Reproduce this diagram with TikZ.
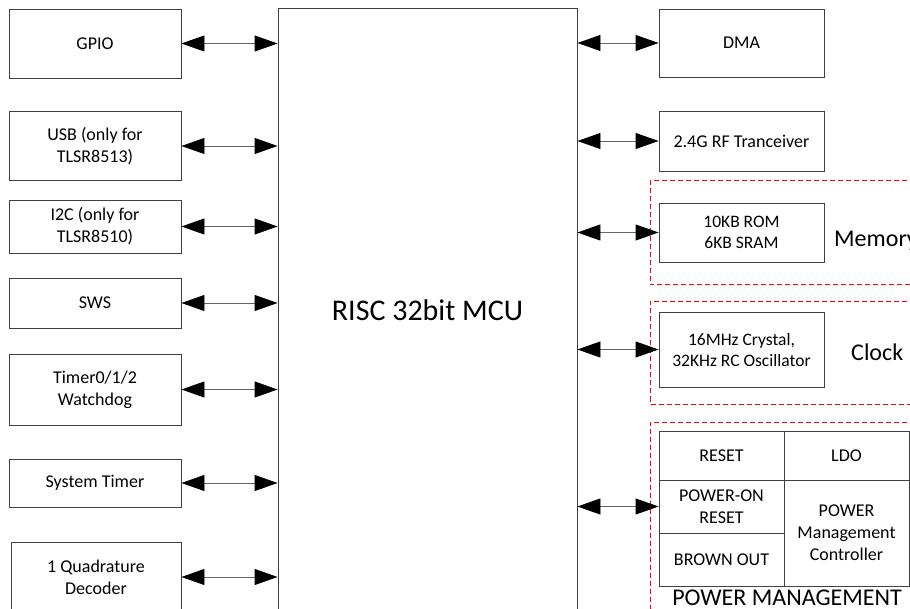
\documentclass[tikz,border=0pt]{standalone}
\usepackage{fontspec}
\setmainfont{Carlito}
\usetikzlibrary{arrows.meta}

\begin{document}
\begin{tikzpicture}[x=1pt, y=-1pt, >={Triangle[length=23pt,width=16pt,color=black]}]
    \tikzset{blk/.style={draw=black!75, line width=0.9pt, inner sep=0pt, align=center,
        font=\fontsize{18}{22}\selectfont},
        link/.style={draw=black!60, line width=0.9pt, <->},
        grp/.style={draw=red, line width=1pt, dash pattern=on 5pt off 3pt}}
    \useasboundingbox (0,0) rectangle (910,609);
    \clip (0,0) rectangle (910,609);
    % groups
    \draw[grp] (915,422) -- (650,422) -- (650,615);
    \draw[grp] (915,301.5) -- (650,301.5) -- (650,404) -- (915,404);
    \draw[grp] (915,181) -- (650,181) -- (650,285) -- (915,285);
    % central core
    \node[blk, minimum width=299pt, minimum height=604pt,
        font=\fontsize{30}{34}\selectfont] (mcu) at (427.5,310) {RISC 32bit MCU};
    % left peripherals
    \node[blk, minimum width=172pt, minimum height=69pt] (gpio) at (95,43.5) {GPIO};
    \node[blk, minimum width=172pt, minimum height=69pt] (usb) at (95,146) {USB (only for\\TLSR8513)};
    \node[blk, minimum width=172pt, minimum height=53pt] (iic) at (95,226.5) {I2C (only for\\TLSR8510)};
    \node[blk, minimum width=172pt, minimum height=50pt] (sws) at (95,303) {SWS};
    \node[blk, minimum width=172pt, minimum height=71pt] (timer) at (95,389.5) {Timer0/1/2\\Watchdog};
    \node[blk, minimum width=172pt, minimum height=48pt] (systimer) at (95,483) {System Timer};
    \node[blk, minimum width=170pt, minimum height=70pt] (qdec) at (96,577) {1 Quadrature\\Decoder};
    % right peripherals
    \node[blk, minimum width=165pt, minimum height=68pt] (dma) at (741.5,43) {DMA};
    \node[blk, minimum width=165pt, minimum height=60pt] (rf) at (741.5,141) {2.4G RF Tranceiver};
    \node[blk, minimum width=165pt, minimum height=59pt,
        font=\fontsize{17.5}{21}\selectfont] (mem) at (741.5,232.5) {10KB ROM\\6KB SRAM};
    \node[blk, minimum width=165pt, minimum height=75pt,
        font=\fontsize{17.5}{21}\selectfont] (clk) at (741.5,349.5) {16MHz Crystal,\\32KHz RC Oscillator};
    % power management grid
    \node[blk, minimum width=125pt, minimum height=49pt] (rst) at (721.5,455.5) {RESET};
    \node[blk, minimum width=125pt, minimum height=53pt] (por) at (721.5,506.5) {POWER-ON\\RESET};
    \node[blk, minimum width=125pt, minimum height=53pt] (bor) at (721.5,559.5) {BROWN OUT};
    \node[blk, minimum width=125pt, minimum height=49pt] (ldo) at (846.5,455.5) {LDO};
    \node[blk, minimum width=125pt, minimum height=106pt] (pmc) at (846.5,533) {POWER\\Management\\Controller};
    \node[anchor=west, inner sep=0pt, font=\fontsize{24}{28}\selectfont] (memlbl) at (834,241) {Memory};
    \node[anchor=west, inner sep=0pt, font=\fontsize{24}{28}\selectfont] (clklbl) at (851,352) {Clock};
    \node[inner sep=0pt, font=\fontsize{24}{28}\selectfont] (pwrlbl) at (787,597.5) {POWER MANAGEMENT};
    % links
    \foreach \b in {gpio,usb,iic,sws,timer,systimer,qdec}
        \draw[link] (\b.east) -- (\b.east -| mcu.west);
    \foreach \b in {dma,rf,mem,clk,por}
        \draw[link] (mcu.east |- \b.west) -- (\b.west);
\end{tikzpicture}
\end{document}
